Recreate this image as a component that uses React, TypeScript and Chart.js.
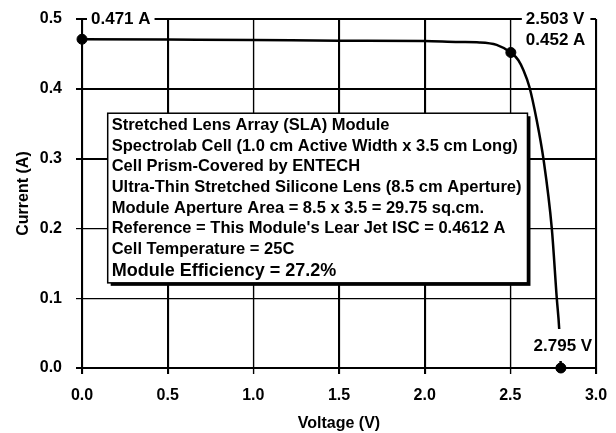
import React, { useEffect, useRef } from "react";
import { Chart, registerables } from "chart.js";

Chart.register(...registerables);

// I-V curve readings (Voltage in V, Current in A)
const voltage = [0, 0.5, 1.0, 1.5, 2.0, 2.2, 2.32, 2.42, 2.503, 2.547, 2.576, 2.611, 2.654, 2.693, 2.742, 2.771, 2.785, 2.795];
const current = [0.471, 0.4705, 0.47, 0.469, 0.4685, 0.467, 0.4665, 0.463, 0.452, 0.441, 0.427, 0.403, 0.355, 0.3, 0.2, 0.1, 0.057, 0.0];

// Key points: short-circuit, max power, open-circuit
const keyVoltage = [0, 2.503, 2.795];
const keyCurrent = [0.471, 0.452, 0.0];

// Axis ranges / tick steps
const xRange = [0, 3.0];
const xStep = 0.5;
const yRange = [0, 0.5];
const yStep = 0.1;

const noteLines = [
  "Stretched Lens Array (SLA) Module",
  "Spectrolab Cell (1.0 cm Active Width x 3.5 cm Long)",
  "Cell Prism-Covered by ENTECH",
  "Ultra-Thin Stretched Silicone Lens (8.5 cm Aperture)",
  "Module Aperture Area = 8.5 x 3.5 = 29.75 sq.cm.",
  "Reference = This Module's Lear Jet ISC = 0.4612 A",
  "Cell Temperature = 25C",
  "Module Efficiency = 27.2%",
];

const FONT = "'Liberation Sans', Arial, Helvetica, sans-serif";

// Ensures grid lines and tick marks are drawn from the scales' own ticks
const gridPlugin = {
  id: "gridFallback",
  beforeDatasetsDraw(chart: any) {
    const { ctx, chartArea } = chart;
    const xs = chart.scales.x;
    const ys = chart.scales.y;
    ctx.save();
    ctx.strokeStyle = "#000";
    ctx.lineWidth = 1.2;
    ctx.beginPath();
    xs.ticks.forEach((_t: any, i: number) => {
      const px = Math.round(xs.getPixelForTick(i)) + 0.5;
      ctx.moveTo(px, chartArea.top);
      ctx.lineTo(px, chartArea.bottom + 6);
    });
    ys.ticks.forEach((_t: any, i: number) => {
      const py = Math.round(ys.getPixelForTick(i)) + 0.5;
      ctx.moveTo(chartArea.left - 6, py);
      ctx.lineTo(chartArea.right, py);
    });
    ctx.stroke();
    ctx.restore();
  },
};

const annotPlugin = {
  id: "annot",
  afterDraw(chart: any) {
    const { ctx } = chart;
    const xs = chart.scales.x;
    const ys = chart.scales.y;
    ctx.save();

    // Notes box
    const bx0 = xs.getPixelForValue(0.15);
    const bx1 = xs.getPixelForValue(2.6);
    const by0 = ys.getPixelForValue(0.365);
    const by1 = ys.getPixelForValue(0.122);
    ctx.fillStyle = "#000";
    ctx.fillRect(bx0 + 3, by0 + 3, bx1 - bx0, by1 - by0);
    ctx.fillStyle = "#fff";
    ctx.fillRect(bx0, by0, bx1 - bx0, by1 - by0);
    ctx.strokeStyle = "#000";
    ctx.lineWidth = 1.5;
    ctx.strokeRect(bx0, by0, bx1 - bx0, by1 - by0);
    ctx.fillStyle = "#000";
    ctx.textBaseline = "middle";
    ctx.textAlign = "left";
    noteLines.forEach((line, i) => {
      const last = i === noteLines.length - 1;
      ctx.font = `bold ${last ? 18 : 16.5}px ${FONT}`;
      const yy = by0 + 12.5 + i * 20.6 + (last ? 1.5 : 0);
      ctx.fillText(line, bx0 + 4, yy);
    });

    ctx.font = `bold 17px ${FONT}`;
    // Isc label
    {
      const px = xs.getPixelForValue(keyVoltage[0]);
      const py = ys.getPixelForValue(yRange[1]);
      const t = `${keyCurrent[0].toFixed(3)} A`;
      const w = ctx.measureText(t).width;
      ctx.fillStyle = "#fff";
      ctx.fillRect(px + 5, py - 9, w + 8, 18);
      ctx.fillStyle = "#000";
      ctx.fillText(t, px + 9, py);
    }
    // Max power label
    {
      const px = xs.getPixelForValue(keyVoltage[1]);
      const py = ys.getPixelForValue(yRange[1]);
      const t1 = `${keyVoltage[1].toFixed(3)} V`;
      const t2 = `${keyCurrent[1].toFixed(3)} A`;
      const w = Math.max(ctx.measureText(t1).width, ctx.measureText(t2).width);
      ctx.fillStyle = "#fff";
      ctx.fillRect(px + 11, py - 9, w + 9, 18);
      ctx.fillStyle = "#000";
      ctx.fillText(t1, px + 15, py);
      ctx.fillText(t2, px + 15, py + 21);
    }
    // Voc label
    {
      const px = xs.getPixelForValue(keyVoltage[2]);
      const py = ys.getPixelForValue(0);
      const t = `${keyVoltage[2].toFixed(3)} V`;
      const w = ctx.measureText(t).width;
      ctx.fillStyle = "#fff";
      ctx.fillRect(px - w / 2 - 4, py - 39, w + 8, 32);
      ctx.fillStyle = "#000";
      ctx.textAlign = "center";
      ctx.fillText(t, px + 2, py - 22);
    }
    // Voc marker on top
    {
      ctx.beginPath();
      ctx.arc(xs.getPixelForValue(keyVoltage[2]), ys.getPixelForValue(keyCurrent[2]), 5, 0, Math.PI * 2);
      ctx.fillStyle = "#000";
      ctx.fill();
    }
    ctx.restore();
  },
};

export default function App() {
  const ref = useRef<HTMLCanvasElement | null>(null);
  useEffect(() => {
    if (!ref.current) return;
    Chart.defaults.font.family = FONT;
    const chart = new Chart(ref.current, {
      type: "scatter",
      data: {
        datasets: [
          {
            label: "I-V",
            data: voltage.map((v, i) => ({ x: v, y: current[i] })),
            showLine: true,
            borderColor: "#000",
            borderWidth: 2.5,
            pointRadius: 0,
            cubicInterpolationMode: "monotone",
          },
          {
            label: "Key points",
            data: keyVoltage.map((v, i) => ({ x: v, y: keyCurrent[i] })),
            showLine: false,
            pointRadius: 5,
            pointBackgroundColor: "#000",
            pointBorderColor: "#000",
            clip: false,
          } as any,
        ],
      },
      options: {
        responsive: false,
        animation: false,
        layout: { padding: { top: 19, right: 20, left: 0, bottom: 0 } },
        plugins: { legend: { display: false }, tooltip: { enabled: false } },
        scales: {
          x: {
            type: "linear",
            min: xRange[0],
            max: xRange[1],
            afterFit: (s: any) => {
              s.height = 65;
              s.paddingLeft = 0;
              s.paddingRight = 0;
            },
            ticks: {
              stepSize: xStep,
              color: "#000",
              font: { size: 16, weight: "bold" },
              padding: 12,
              callback: (v: any) => Number(v).toFixed(1),
            },
            grid: { color: "#000", lineWidth: 1.2, tickLength: 6 },
            border: { display: true, color: "#000", width: 2 },
            title: {
              display: true,
              text: "Voltage (V)",
              color: "#000",
              font: { size: 16, weight: "bold" },
              padding: { top: 0, bottom: 0 },
            },
          },
          y: {
            type: "linear",
            min: yRange[0],
            max: yRange[1],
            afterFit: (s: any) => {
              s.width = 82;
              s.paddingTop = 0;
              s.paddingBottom = 0;
            },
            ticks: {
              stepSize: yStep,
              color: "#000",
              font: { size: 16, weight: "bold" },
              padding: 14,
              callback: (v: any) => Number(v).toFixed(1),
            },
            grid: { color: "#000", lineWidth: 1.2, tickLength: 6 },
            border: { display: true, color: "#000", width: 2 },
            title: {
              display: true,
              text: "Current (A)",
              color: "#000",
              font: { size: 16, weight: "bold" },
              padding: { top: 14, bottom: 14 },
            },
          },
        },
      },
      plugins: [gridPlugin, annotPlugin],
    } as any);
    return () => chart.destroy();
  }, []);
  return (
    <div style={{ position: "absolute", left: 0, top: 0, width: 616, height: 433, background: "#fff" }}>
      <canvas ref={ref} width={616} height={433} style={{ display: "block" }} />
    </div>
  );
}
